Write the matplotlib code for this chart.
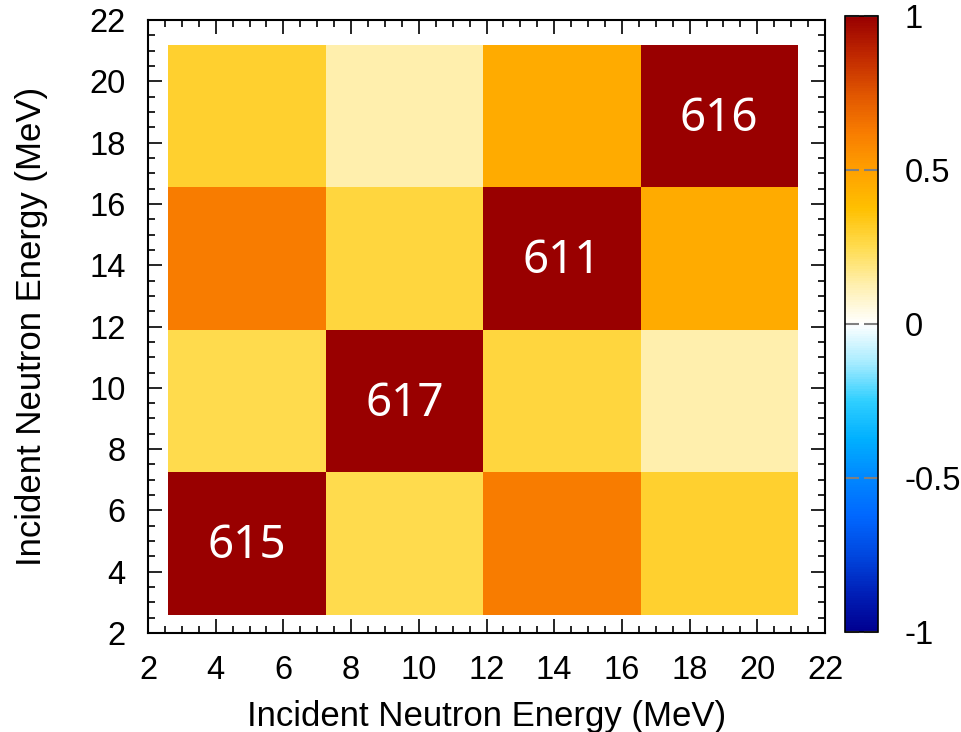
import numpy as np
import matplotlib.pyplot as plt
from matplotlib.colors import LinearSegmentedColormap
from matplotlib.ticker import MultipleLocator

# energy bin edges (MeV), same binning on both axes
x_edges = [2.6, 7.25, 11.9, 16.55, 21.2]
y_edges = [2.6, 7.25, 11.9, 16.55, 21.2]

# correlation matrix, row 0 = lowest energy bin
corr = np.array([
    [1.00, 0.25, 0.62, 0.30],
    [0.25, 1.00, 0.28, 0.13],
    [0.62, 0.28, 1.00, 0.46],
    [0.30, 0.13, 0.46, 1.00],
])

# number of events in each diagonal bin
counts = [615, 617, 611, 616]

# blue-white-red palette, -1 .. 1
palette = [
    (0.000, '#000090'),
    (0.0625, '#0020b8'),
    (0.125, '#0048e0'),
    (0.1875, '#0068ff'),
    (0.250, '#0088ff'),
    (0.3125, '#00b0ff'),
    (0.375, '#30cfff'),
    (0.4375, '#a8ecff'),
    (0.500, '#ffffff'),
    (0.5625, '#fff0b0'),
    (0.625, '#ffdc50'),
    (0.6875, '#ffc000'),
    (0.750, '#ffa000'),
    (0.8125, '#f87c00'),
    (0.875, '#e05500'),
    (0.9375, '#c02800'),
    (1.000, '#990000'),
]
cmap = LinearSegmentedColormap.from_list('corr', palette, N=256)

plt.rcParams['font.family'] = ['Liberation Sans', 'DejaVu Sans']

fig = plt.figure(figsize=(9.61, 7.32), dpi=100)
ax = fig.add_axes([0.154, 0.1352, 0.7045, 0.8374])
cax = fig.add_axes([0.8793, 0.137, 0.0343, 0.841])

mesh = ax.pcolormesh(x_edges, y_edges, corr, cmap=cmap, vmin=-1, vmax=1)

for i in range(len(counts)):
    xc = (x_edges[i] + x_edges[i + 1]) / 2
    yc = (y_edges[i] + y_edges[i + 1]) / 2
    ax.text(xc, yc - 0.1, str(counts[i]), color='white', fontsize=33,
            family=['Noto Sans', 'DejaVu Sans'], ha='center', va='center')

ax.set_xlim(2, 22)
ax.set_ylim(2, 22)
ax.xaxis.set_major_locator(MultipleLocator(2))
ax.yaxis.set_major_locator(MultipleLocator(2))
ax.xaxis.set_minor_locator(MultipleLocator(0.5))
ax.yaxis.set_minor_locator(MultipleLocator(0.5))
ax.tick_params(which='both', direction='in', top=True, right=True,
               labelsize=23.5, width=1.2)
ax.tick_params(axis='x', which='major', pad=16)
ax.tick_params(axis='y', which='major', pad=16)
ax.tick_params(which='major', length=10)
ax.tick_params(which='minor', length=5)
for s in ax.spines.values():
    s.set_linewidth(1.5)

ax.set_xlabel('Incident Neutron Energy (MeV)', fontsize=25, labelpad=10)
ax.set_ylabel('Incident Neutron Energy (MeV)', fontsize=25, labelpad=30)

cbar = fig.colorbar(mesh, cax=cax, ticks=[-1, -0.5, 0, 0.5, 1])
cbar.ax.set_yticklabels(['-1', '-0.5', '0', '0.5', '1'])
cbar.ax.tick_params(direction='in', left=True, right=True, length=10,
                    width=1.5, color='grey', labelsize=23.5, pad=19)
cbar.outline.set_linewidth(1.2)

fig.savefig('out.png', dpi=100)
